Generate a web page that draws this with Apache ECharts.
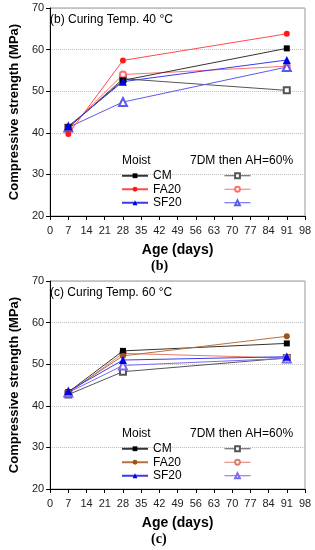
<!DOCTYPE html>
<html><head><meta charset="utf-8">
<script src="https://cdn.jsdelivr.net/npm/echarts@6/dist/echarts.min.js"></script>
<style>html,body{margin:0;padding:0;background:#fff}#c{width:315px;height:550px}</style>
</head><body><div id="c"></div>
<script>
const ages = [7, 28, 91];
const xTicks = [0,7,14,21,28,35,42,49,56,63,70,77,84,91,98];
const yTicks = [20,30,40,50,60,70];
// Panel (b) 40 °C
const b_CM_moist   = [41.3, 52.6, 60.3];
const b_FA20_moist = [39.7, 57.4, 63.8];
const b_SF20_moist = [41.6, 52.3, 57.5];
const b_CM_dry     = [41.2, 53.0, 50.2];
const b_FA20_dry   = [41.0, 54.0, 56.0];
const b_SF20_dry   = [41.3, 47.4, 55.8];
// Panel (c) 60 °C
const c_CM_moist   = [43.3, 53.2, 55.0];
const c_FA20_moist = [43.3, 52.0, 56.7];
const c_SF20_moist = [43.5, 51.0, 51.8];
const c_CM_dry     = [42.7, 48.2, 51.5];
const c_FA20_dry   = [43.0, 52.6, 51.5];
const c_SF20_dry   = [43.2, 49.7, 51.4];

const chart = echarts.init(document.getElementById('c'));
const FONT = 'Liberation Sans';
const panels = [
  {top: 8, cap: '(b)', title: '(b) Curing Temp. 40 °C',
   moist: [b_CM_moist, b_FA20_moist, b_SF20_moist], dry: [b_CM_dry, b_FA20_dry, b_SF20_dry],
   mc: ['#000000', '#ff1a1a', '#0000ee'], dc: ['#555555', '#ff6f6f', '#5a5aee'],
   lmc: ['#333333', '#ff4a4a', '#3a3aee']},
  {top: 281, cap: '(c)', title: '(c) Curing Temp. 60 °C',
   moist: [c_CM_moist, c_FA20_moist, c_SF20_moist], dry: [c_CM_dry, c_FA20_dry, c_SF20_dry],
   mc: ['#000000', '#9a5424', '#0000ee'], dc: ['#555555', '#e07a6a', '#7a6aee'],
   lmc: ['#333333', '#b8703c', '#3a3aee']}
];
const names = ['CM', 'FA20', 'SF20'];
const syms = ['rect', 'circle', 'triangle'];
const grids = [], xAxes = [], yAxes = [], series = [], legends = [], graphics = [];
panels.forEach((p, i) => {
  grids.push({left: 46, top: p.top, width: 259, height: 208, show: true, borderColor: '#999', borderWidth: 1});
  xAxes.push({type: 'value', gridIndex: i, min: 0, max: 98, interval: 7,
    axisLine: {lineStyle: {color: '#000', width: 1}},
    axisTick: {show: true, length: 4, lineStyle: {color: '#000'}},
    axisLabel: {color: '#222', fontFamily: FONT, fontSize: 11, margin: 9},
    splitLine: {show: false},
    name: 'Age (days)', nameLocation: 'middle', nameGap: 27,
    nameTextStyle: {fontFamily: FONT, fontWeight: 'bold', fontSize: 14, color: '#000'}});
  yAxes.push({type: 'value', gridIndex: i, min: 20, max: 70, interval: 10,
    axisLine: {show: true, lineStyle: {color: '#000', width: 1}},
    axisTick: {show: true, length: 4, lineStyle: {color: '#000'}},
    axisLabel: {color: '#222', fontFamily: FONT, fontSize: 11, margin: 6},
    splitLine: {show: true, lineStyle: {color: '#bbb', type: 'dotted', width: 1}},
    name: 'Compressive strength (MPa)', nameLocation: 'middle', nameGap: 28,
    nameTextStyle: {fontFamily: FONT, fontWeight: 'bold', fontSize: 13, color: '#000'}});
  const moistNames = [], dryNames = [];
  for (let k = 0; k < 3; k++) {
    const mn = names[k] + (i ? '\u200b' : '');
    const dn = names[k] + ' dry' + (i ? '\u200b' : '');
    moistNames.push(mn); dryNames.push(dn);
    series.push({type: 'line', name: mn, xAxisIndex: i, yAxisIndex: i,
      data: ages.map((a, j) => [a, p.moist[k][j]]),
      symbol: syms[k], symbolSize: k === 2 ? 8 : 6,
      itemStyle: {color: p.mc[k]}, lineStyle: {color: p.lmc[k], width: 1}, z: 3});
    series.push({type: 'line', name: dn, xAxisIndex: i, yAxisIndex: i,
      data: ages.map((a, j) => [a, p.dry[k][j]]),
      symbol: 'empty' + syms[k], symbolSize: k === 2 ? 8 : 6,
      itemStyle: {color: p.dc[k], borderWidth: 1}, lineStyle: {color: p.dc[k], width: 1}, z: 2});
  }
  const ltop = p.top + 161;
  legends.push({data: moistNames, orient: 'vertical', left: 121, top: ltop, itemWidth: 26, itemHeight: 6,
    itemGap: 0, textStyle: {fontFamily: FONT, fontSize: 12, color: '#000', lineHeight: 13.5}, padding: 0,
    formatter: n => n.replace('\u200b', ''), selectedMode: false});
  legends.push({data: dryNames, orient: 'vertical', left: 224, top: ltop, itemWidth: 26, itemHeight: 6,
    itemGap: 0, textStyle: {fontSize: 12, lineHeight: 13.5}, padding: 0, formatter: () => ' ', selectedMode: false,
    itemStyle: {borderWidth: 1}, lineStyle: {width: 1}});
  graphics.push({type: 'text', left: 122, top: p.top + 147, style: {text: 'Moist', font: '12px "Liberation Sans"', fill: '#000'}});
  graphics.push({type: 'text', left: 190, top: p.top + 147, style: {text: '7DM then AH=60%', font: '12px "Liberation Sans"', fill: '#000'}});
  graphics.push({type: 'text', left: 50, top: p.top + 6, style: {text: p.title, font: '12px "Liberation Sans"', fill: '#000'}});
  graphics.push({type: 'text', left: 151, top: p.top + 251, style: {text: p.cap, font: 'bold 14px "Liberation Serif"', fill: '#000'}});
});
chart.setOption({
  animation: false,
  grid: grids, xAxis: xAxes, yAxis: yAxes, series: series, legend: legends, graphic: graphics
});
</script></body></html>
